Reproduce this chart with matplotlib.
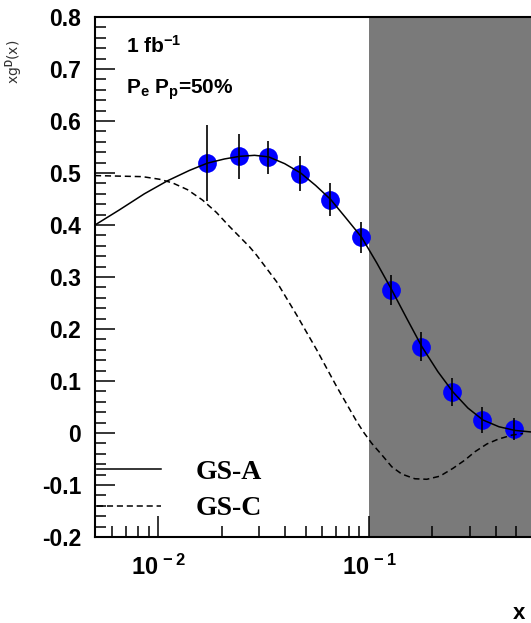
import numpy as np
import matplotlib
matplotlib.use("Agg")
from matplotlib import pyplot as plt
from matplotlib.ticker import FixedLocator, FixedFormatter, LogLocator, NullFormatter

plt.rcParams['axes.unicode_minus'] = False
plt.rcParams['mathtext.fontset'] = 'custom'
plt.rcParams['mathtext.rm'] = 'Liberation Sans:bold'
plt.rcParams['mathtext.it'] = 'Liberation Sans:bold'
plt.rcParams['mathtext.bf'] = 'Liberation Sans:bold'

# data points
x_data = [0.01702, 0.0242, 0.0332, 0.0470, 0.0653, 0.0914, 0.1268, 0.177, 0.248, 0.344, 0.486]
y_data = [0.519, 0.532, 0.530, 0.499, 0.449, 0.376, 0.275, 0.166, 0.079, 0.025, 0.007]
y_err = [0.073, 0.043, 0.032, 0.034, 0.031, 0.030, 0.029, 0.028, 0.027, 0.025, 0.021]

# GS-A curve (solid)
x_gsa = [0.005, 0.006524, 0.008577, 0.01104, 0.01404, 0.01710, 0.02059, 0.02428, 0.02860,
         0.03335, 0.03973, 0.04734, 0.05579, 0.06574, 0.07746, 0.09232, 0.1088, 0.1282,
         0.1511, 0.1781, 0.2121, 0.2500, 0.2946, 0.3472, 0.4137, 0.4928, 0.5872]
y_gsa = [0.400, 0.429, 0.460, 0.485, 0.505, 0.519, 0.527, 0.532, 0.534,
         0.531, 0.518, 0.500, 0.476, 0.449, 0.414, 0.376, 0.327, 0.275,
         0.220, 0.166, 0.118, 0.079, 0.048, 0.025, 0.012, 0.005, 0.002]

# GS-C curve (dashed)
x_gsc = [0.005, 0.00652, 0.008392, 0.01011, 0.01166, 0.01373, 0.01619, 0.01887, 0.02176,
         0.02708, 0.02924, 0.03639, 0.04530, 0.05640, 0.07021, 0.08740, 0.09437, 0.1030,
         0.1149, 0.1282, 0.1430, 0.1649, 0.1880, 0.2169, 0.2500, 0.2851, 0.3181, 0.3628,
         0.4093, 0.4771, 0.5382]
y_gsc = [0.495, 0.494, 0.493, 0.488, 0.481, 0.468, 0.448, 0.424, 0.397,
         0.358, 0.342, 0.291, 0.227, 0.160, 0.089, 0.022, 0.001, -0.020,
         -0.042, -0.065, -0.079, -0.088, -0.089, -0.083, -0.068, -0.052, -0.036, -0.021,
         -0.012, -0.004, -0.001]

x_min, x_max = 0.005, 0.587
cut_x = 0.1

y_ticks = [-0.2, -0.1, 0.0, 0.1, 0.2, 0.3, 0.4, 0.5, 0.6, 0.7, 0.8]
y_tick_labels = ['-0.2', '-0.1', '0', '0.1', '0.2', '0.3', '0.4', '0.5', '0.6', '0.7', '0.8']
x_ticks = [0.01, 0.1]
x_tick_labels = [r'$10^{\,-2}$', r'$10^{\,-1}$']

fig = plt.figure(figsize=(5.31, 6.23), dpi=100)
ax = fig.add_axes([95 / 531, 1 - 537 / 623, 436 / 531, 520 / 623])

ax.axvspan(cut_x, x_max, facecolor='#7a7a7a', edgecolor='none', zorder=0)

ax.plot(x_data, y_data, 'o', color='#0000ff', ms=13.5, mec='none', zorder=3)
ax.errorbar(x_data, y_data, yerr=y_err, fmt='none', ecolor='black', elinewidth=1.2,
            capsize=0, zorder=4)
ax.plot(x_gsa, y_gsa, color='black', lw=1.1, zorder=5, label='GS-A')
ax.plot(x_gsc, y_gsc, color='black', lw=1.1, dashes=(4, 2.5), zorder=5, label='GS-C')

ax.set_xscale('log')
ax.set_xlim(x_min, x_max)
ax.set_ylim(-0.2, 0.8)

ax.yaxis.set_major_locator(FixedLocator(y_ticks))
ax.yaxis.set_major_formatter(FixedFormatter(y_tick_labels))
ax.yaxis.set_minor_locator(FixedLocator(np.arange(-0.2, 0.801, 0.02)))
ax.xaxis.set_major_locator(FixedLocator(x_ticks))
ax.xaxis.set_major_formatter(FixedFormatter(x_tick_labels))
ax.xaxis.set_minor_locator(LogLocator(base=10, subs=np.arange(2, 10)))
ax.xaxis.set_minor_formatter(NullFormatter())

ax.tick_params(axis='both', which='both', direction='in', width=1.1, color='black')
ax.tick_params(axis='y', which='major', length=14.5, pad=10, labelsize=16.5)
ax.tick_params(axis='y', which='minor', length=8)
ax.tick_params(axis='x', which='major', length=15, pad=13, labelsize=17)
ax.tick_params(axis='x', which='minor', length=8)
for lab in ax.get_yticklabels():
    lab.set_fontfamily('Liberation Sans')
    lab.set_fontweight('bold')

for s in ['left', 'bottom', 'top']:
    ax.spines[s].set_linewidth(1.5)
ax.spines['right'].set_visible(False)

ax.text(0.071, 0.931, r'1 fb$^{-1}$', transform=ax.transAxes, fontsize=15,
        fontfamily='Liberation Sans', fontweight='bold', va='baseline')
ax.text(0.071, 0.853, r'P$_{e}$ P$_{p}$=50%', transform=ax.transAxes, fontsize=15,
        fontfamily='Liberation Sans', fontweight='bold', va='baseline')

ax.legend(loc='lower left', bbox_to_anchor=(0.005, 0.03), frameon=False,
          borderaxespad=0, borderpad=0, handlelength=2.3, handletextpad=1.25,
          labelspacing=0.4, prop={'family': 'Liberation Serif', 'weight': 'bold', 'size': 20})

fig.text(0.99, 1 - 619 / 623, 'x', ha='right', va='baseline', fontsize=16,
         fontfamily='Liberation Sans', fontweight='bold')
fig.text(14 / 531, 1 - 62 / 623, r'xg$^{D}$(x)', rotation=90, ha='center', va='center',
         fontsize=10, fontfamily='DejaVu Sans', color='#333333')

fig.savefig('out.png', dpi=100)
